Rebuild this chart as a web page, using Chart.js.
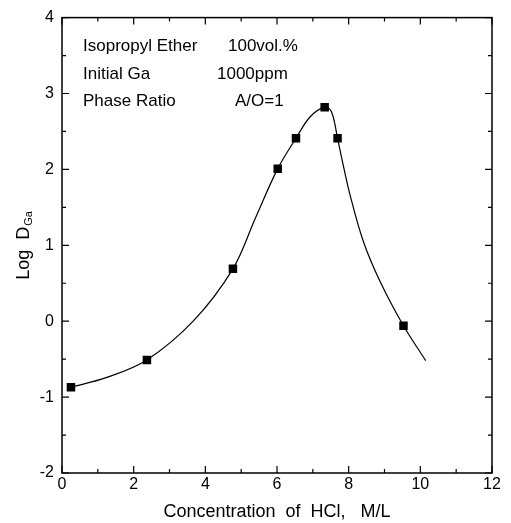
<!DOCTYPE html>
<html>
<head>
<meta charset="utf-8">
<script src="https://cdn.jsdelivr.net/npm/chart.js@4"></script>
<style>
  html, body { margin: 0; padding: 0; background: #fff; }
  #wrap { width: 511px; height: 523px; }
</style>
</head>
<body>
<div id="wrap"><canvas id="myChart" width="511" height="523"></canvas></div>
<script>
// measured points (HCl conc, log D)
var hcl = [0.25, 2.37, 4.77, 6.02, 6.53, 7.33, 7.69, 9.53];
var logD = [-0.87, -0.51, 0.69, 2.01, 2.41, 2.82, 2.41, -0.06];

// fitted curve
var curveX = [0.25, 1.25, 2.37, 3.66, 4.77, 5.39, 6.02, 6.53, 6.92, 7.33, 7.52, 7.69, 7.81, 8.04, 8.41, 8.87, 9.53, 10.15];
var curveY = [-0.87, -0.74, -0.51, 0.0, 0.69, 1.35, 2.01, 2.41, 2.69, 2.82, 2.76, 2.41, 2.14, 1.66, 1.05, 0.53, -0.06, -0.52];

var noteLabels = ['Isopropyl Ether', 'Initial Ga', 'Phase Ratio'];
var noteValues = ['100vol.%', '1000ppm', 'A/O=1'];

var FONT = '"Liberation Sans", Arial, sans-serif';

function toXY(xs, ys){
    var arr = [];
    for(var i = 0; i < xs.length; i++){
        arr.push({x: xs[i], y: ys[i]});
    }
    return arr;
}

// frame, inward ticks on all four sides, notes and y title
var framePlugin = {
    id: 'frame',
    afterDraw: function(chart){
        var ctx = chart.ctx;
        var a = chart.chartArea;
        var xs = chart.scales.x;
        var ys = chart.scales.y;
        ctx.save();
        ctx.strokeStyle = '#000';
        ctx.lineWidth = 1.5;
        ctx.strokeRect(a.left, a.top, a.right - a.left, a.bottom - a.top);

        ctx.lineWidth = 1.2;
        ctx.beginPath();
        for(var v = 0; v <= 12; v += 1){
            var px = xs.getPixelForValue(v);
            var len = (v % 2 == 0) ? 7 : 4;
            ctx.moveTo(px, a.bottom); ctx.lineTo(px, a.bottom - len);
            ctx.moveTo(px, a.top); ctx.lineTo(px, a.top + len);
        }
        for(var w = -2; w <= 4; w += 0.5){
            var py = ys.getPixelForValue(w);
            var len2 = (w % 1 == 0) ? 7 : 4;
            ctx.moveTo(a.left, py); ctx.lineTo(a.left + len2, py);
            ctx.moveTo(a.right, py); ctx.lineTo(a.right - len2, py);
        }
        ctx.stroke();

        // notes
        ctx.fillStyle = '#000';
        ctx.font = '17px ' + FONT;
        ctx.textBaseline = 'middle';
        ctx.textAlign = 'left';
        var rows = [46, 74, 101];
        var valX = [228, 217, 235];
        for(var i = 0; i < noteLabels.length; i++){
            ctx.fillText(noteLabels[i], 83, rows[i]);
            ctx.fillText(noteValues[i], valX[i], rows[i]);
        }

        // y title with subscript
        ctx.translate(24, 246);
        ctx.rotate(-Math.PI / 2);
        ctx.font = '18px ' + FONT;
        ctx.textAlign = 'left';
        var t1 = 'Log  D';
        var w1 = ctx.measureText(t1).width;
        ctx.font = '11px ' + FONT;
        var w2 = ctx.measureText('Ga').width;
        var start = -(w1 + w2) / 2;
        ctx.font = '18px ' + FONT;
        ctx.fillText(t1, start, 0);
        ctx.font = '11px ' + FONT;
        ctx.fillText('Ga', start + w1 + 1, 5);
        ctx.restore();
    }
};

var ctx = document.getElementById('myChart').getContext('2d');
var myChart = new Chart(ctx, {
    type: 'scatter',
    data: {
        datasets: [{
            label: 'fit',
            data: toXY(curveX, curveY),
            showLine: true,
            borderColor: '#000',
            borderWidth: 1.2,
            pointRadius: 0,
            tension: 0.35,
            fill: false
        },{
            label: 'measured',
            data: toXY(hcl, logD),
            pointStyle: 'rect',
            pointRadius: 6,
            backgroundColor: '#000',
            borderColor: '#000',
            borderWidth: 0
        }]
    },
    options: {
        responsive: false,
        animation: false,
        devicePixelRatio: 1,
        layout: { padding: { left: 0, top: 15, right: 19, bottom: 0 } },
        plugins: {
            legend: { display: false },
            tooltip: { enabled: false }
        },
        scales: {
            x: {
                type: 'linear',
                min: 0, max: 12,
                afterFit: function(scale){ scale.height = 50; },
                grid: { display: false, drawTicks: false },
                border: { display: false },
                ticks: { stepSize: 2, padding: 2, color: '#000', font: { family: FONT, size: 16 } },
                title: {
                    display: true,
                    text: 'Concentration  of  HCl,   M/L',
                    color: '#000',
                    padding: { top: 0, bottom: 0 },
                    font: { family: FONT, size: 18 }
                }
            },
            y: {
                type: 'linear',
                min: -2, max: 4,
                afterFit: function(scale){ scale.width = 62; },
                grid: { display: false, drawTicks: false },
                border: { display: false },
                ticks: { stepSize: 1, padding: 8, color: '#000', font: { family: FONT, size: 16 } }
            }
        }
    },
    plugins: [framePlugin]
});
</script>
</body>
</html>
